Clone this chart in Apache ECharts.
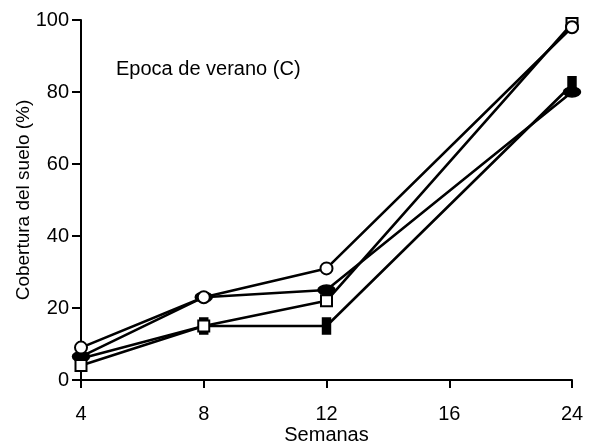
<!DOCTYPE html>
<html><head><meta charset="utf-8">
<script src="https://cdn.jsdelivr.net/npm/echarts@6/dist/echarts.min.js"></script>
<style>html,body{margin:0;padding:0;background:#fff}#c{width:592px;height:447px}</style>
</head><body><div id="c"></div>
<script>
const weeks = ['4','8','12','16','24'];
const yTicks = [0,20,40,60,80,100];
const openCircle = [9, 23, 31, null, 98];
const openSquare = [4, 15, 22, null, 99];
const filledOval = [6.5, 23, 25, null, 80];
const filledBar = [6, 15, 15, null, 82];

const chart = echarts.init(document.getElementById('c'), null, {renderer:'canvas'});
const font = '"Liberation Sans", Arial, sans-serif';
function mk(name, data, symbol, size, fill){
  return {name, type:'line', data, connectNulls:true, symbol, symbolSize:size,
    showAllSymbol:true,
    lineStyle:{color:'#000', width:2.6},
    itemStyle:{color:fill, borderColor:'#000', borderWidth:2},
    z: fill==='#fff'?3:2, animation:false};
}
chart.setOption({
  animation:false,
  grid:{left:81, right:20, top:20, bottom:67, containLabel:false, outerBoundsMode:'none'},
  title:{text:'Epoca de verano (C)', left:111, top:54,
    textStyle:{fontFamily:font, fontSize:20, fontWeight:'normal', color:'#000'}},
  xAxis:{type:'category', data:weeks, boundaryGap:false,
    name:'Semanas', nameLocation:'middle', nameGap:45, nameMoveOverlap:false,
    nameTextStyle:{fontFamily:font, fontSize:20, color:'#000'},
    axisLine:{lineStyle:{color:'#000', width:2}},
    axisTick:{alignWithLabel:true, length:8, lineStyle:{color:'#000', width:2}},
    axisLabel:{fontFamily:font, fontSize:20, color:'#000', margin:24},
    splitLine:{show:false}},
  yAxis:{type:'value', min:0, max:100, interval:20,
    name:'Cobertura del suelo (%)', nameLocation:'middle', nameGap:48, nameMoveOverlap:false,
    nameTextStyle:{fontFamily:font, fontSize:19, color:'#000'},
    axisLine:{show:true, lineStyle:{color:'#000', width:2}},
    axisTick:{show:true, length:9, lineStyle:{color:'#000', width:2}},
    axisLabel:{fontFamily:font, fontSize:20, color:'#000', margin:12},
    splitLine:{show:false}},
  series:[
    mk('bar', filledBar, 'rect', [8,15], '#000'),
    mk('oval', filledOval, 'circle', [16,10], '#000'),
    mk('square', openSquare, 'rect', [11,11], '#fff'),
    mk('circle', openCircle, 'circle', [12,12], '#fff')
  ]
});
</script></body></html>
